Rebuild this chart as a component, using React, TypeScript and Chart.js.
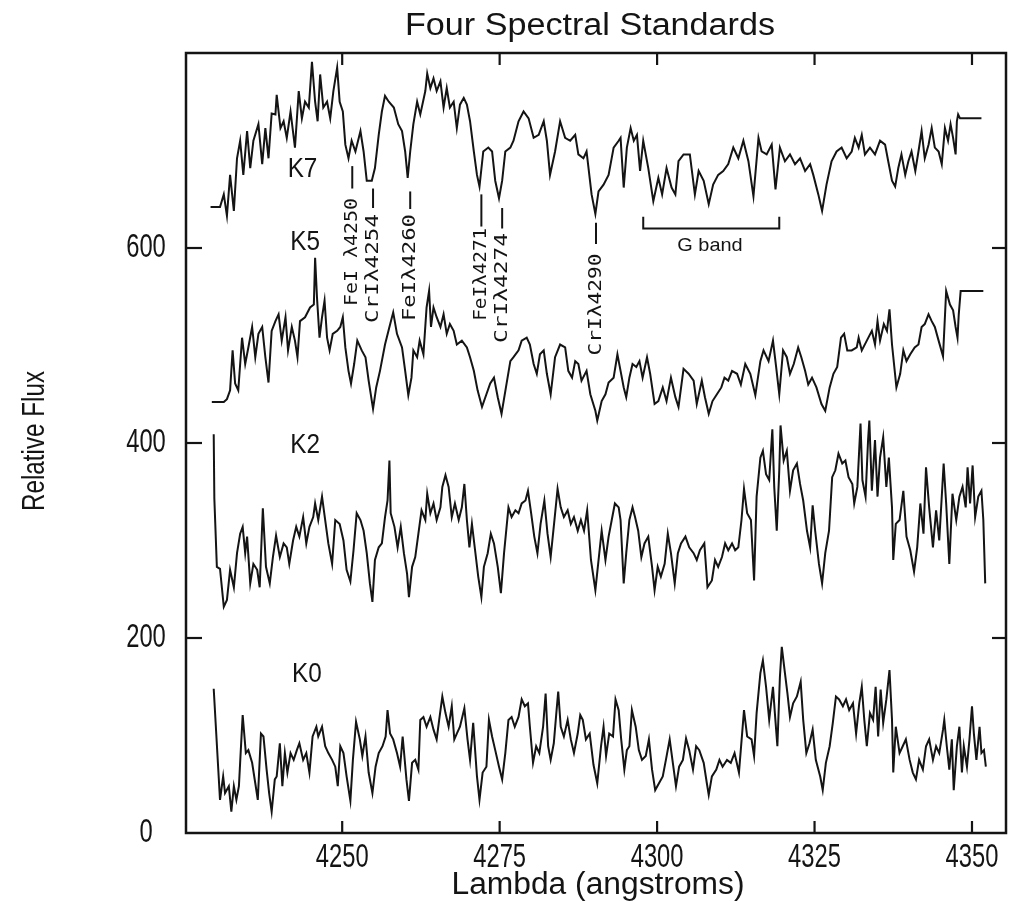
import React, { useEffect, useRef } from "react";
import { Chart, registerables } from "chart.js";

Chart.register(...registerables);

// ---------- text & axes ----------
const TITLE = "Four Spectral Standards";
const X_TITLE = "Lambda (angstroms)";
const Y_TITLE = "Relative Flux";
const X_TICKS = [4250, 4275, 4300, 4325, 4350];
const Y_TICKS = [0, 200, 400, 600];
const X_MIN = 4225.2;
const X_MAX = 4355.4;
const Y_MIN = 0;
const Y_MAX = 800;

// ---------- spectra: [wavelength (Å), relative flux] ----------
const K7: [number, number][] = [
  [4229.1, 642], [4230.6, 642], [4231.2, 655], [4231.7, 633], [4232.2, 675], [4232.8, 638], [4233.3, 692], [4233.8, 710],
  [4234.3, 675], [4234.9, 720], [4235.4, 682], [4235.9, 710], [4236.7, 727], [4237.3, 686], [4237.8, 723], [4238.3, 692],
  [4238.8, 738], [4239.4, 737], [4239.6, 757], [4240.2, 723], [4240.7, 730], [4241.2, 713], [4241.8, 740], [4242.5, 703],
  [4243.1, 761], [4243.6, 733], [4244.1, 750], [4244.7, 744], [4245.2, 791], [4245.7, 750], [4246.1, 730], [4246.5, 778],
  [4247.0, 744], [4247.6, 750], [4248.1, 733], [4248.6, 761], [4249.2, 785], [4249.6, 750], [4250.1, 740], [4250.5, 706],
  [4251.0, 692], [4251.5, 710], [4252.1, 699], [4252.9, 720], [4253.4, 699], [4253.9, 669], [4254.7, 669], [4255.2, 682],
  [4255.8, 716], [4256.3, 740], [4256.8, 756], [4257.4, 750], [4258.2, 744], [4258.9, 727], [4259.5, 720], [4260.0, 699],
  [4260.4, 672], [4260.8, 699], [4261.3, 727], [4261.9, 750], [4262.4, 737], [4263.2, 761], [4263.5, 779], [4264.0, 764],
  [4264.5, 774], [4265.0, 761], [4265.6, 771], [4266.1, 744], [4266.6, 764], [4267.1, 744], [4267.7, 750], [4268.2, 723],
  [4268.7, 747], [4269.3, 754], [4269.8, 747], [4270.3, 730], [4270.9, 699], [4271.4, 675], [4271.8, 663], [4272.4, 699],
  [4273.2, 703], [4273.8, 699], [4274.3, 669], [4274.9, 651], [4275.4, 669], [4275.9, 699], [4276.7, 703], [4277.2, 710],
  [4278.0, 730], [4278.8, 740], [4279.6, 733], [4280.4, 713], [4281.2, 716], [4282.0, 730], [4282.5, 710], [4283.0, 675],
  [4283.8, 699], [4284.6, 730], [4285.4, 713], [4286.2, 710], [4287.0, 716], [4287.5, 696], [4288.3, 692], [4288.8, 699],
  [4289.6, 655], [4290.2, 635], [4290.7, 658], [4291.5, 665], [4292.3, 675], [4293.1, 703], [4293.9, 710], [4294.2, 713],
  [4294.7, 662], [4295.2, 703], [4295.8, 723], [4296.3, 710], [4296.8, 716], [4297.3, 679], [4297.8, 710], [4298.6, 682],
  [4299.4, 648], [4300.2, 672], [4300.8, 655], [4301.5, 682], [4302.3, 662], [4302.9, 655], [4303.4, 689], [4304.2, 696],
  [4305.2, 696], [4306.0, 655], [4306.6, 679], [4307.4, 669], [4308.2, 645], [4308.9, 665], [4309.7, 675], [4310.5, 679],
  [4311.3, 686], [4312.1, 703], [4312.9, 692], [4313.7, 710], [4314.5, 689], [4315.3, 653], [4316.1, 713], [4316.6, 699],
  [4317.4, 696], [4318.2, 706], [4318.8, 660], [4319.5, 703], [4320.3, 689], [4321.1, 696], [4321.9, 686], [4322.7, 692],
  [4323.5, 679], [4324.3, 686], [4324.8, 675], [4325.6, 655], [4326.2, 638], [4326.9, 665], [4327.7, 689], [4328.5, 699],
  [4329.3, 703], [4330.1, 692], [4330.9, 699], [4331.4, 713], [4332.0, 703], [4332.5, 716], [4333.0, 696], [4333.8, 703],
  [4334.6, 696], [4335.4, 710], [4336.2, 706], [4336.7, 689], [4337.3, 669], [4337.8, 663], [4338.3, 682], [4338.8, 696],
  [4339.4, 675], [4339.9, 689], [4340.4, 699], [4341.0, 679], [4341.5, 699], [4342.0, 720], [4342.5, 692], [4343.1, 706],
  [4343.6, 723], [4344.1, 703], [4344.7, 699], [4345.2, 686], [4345.7, 723], [4346.2, 710], [4346.6, 727], [4347.0, 713],
  [4347.4, 696], [4347.6, 730], [4347.8, 737], [4348.1, 733], [4351.5, 733],
];

const K5: [number, number][] = [
  [4229.3, 442], [4231.2, 442], [4231.7, 445], [4232.2, 454], [4232.6, 495], [4233.0, 461], [4233.5, 454], [4234.1, 508],
  [4234.6, 481], [4235.1, 498], [4235.7, 519], [4236.2, 488], [4236.7, 512], [4237.3, 519], [4237.8, 488], [4238.3, 462],
  [4238.8, 515], [4239.4, 525], [4239.9, 532], [4240.4, 505], [4241.0, 529], [4241.4, 495], [4242.0, 519], [4242.5, 505],
  [4242.9, 488], [4243.3, 525], [4244.1, 529], [4244.9, 539], [4245.5, 542], [4245.7, 590], [4246.0, 549], [4246.4, 508],
  [4246.8, 529], [4247.2, 546], [4247.6, 508], [4248.0, 495], [4248.5, 512], [4249.2, 515], [4249.7, 519], [4250.1, 529],
  [4250.5, 498], [4251.0, 474], [4251.4, 461], [4251.9, 481], [4252.4, 505], [4253.1, 495], [4253.7, 488], [4254.2, 464],
  [4254.9, 435], [4255.4, 457], [4256.0, 474], [4256.8, 501], [4257.5, 519], [4258.1, 534], [4258.7, 512], [4259.5, 498],
  [4260.0, 474], [4260.5, 449], [4261.0, 467], [4261.3, 495], [4261.9, 488], [4262.3, 505], [4262.9, 491], [4263.4, 539],
  [4263.8, 556], [4264.1, 519], [4264.5, 539], [4265.0, 529], [4265.6, 519], [4266.1, 532], [4266.6, 512], [4267.1, 522],
  [4267.7, 515], [4268.2, 501], [4269.0, 505], [4269.8, 498], [4270.3, 488], [4270.9, 474], [4271.5, 454], [4272.2, 437],
  [4272.9, 450], [4273.5, 461], [4274.1, 467], [4274.7, 447], [4275.3, 430], [4276.0, 457], [4276.7, 484], [4277.2, 488],
  [4278.0, 495], [4278.5, 505], [4279.3, 508], [4279.8, 501], [4280.4, 481], [4280.9, 471], [4281.4, 491], [4282.0, 495],
  [4282.5, 471], [4283.1, 450], [4283.8, 488], [4284.6, 501], [4285.4, 498], [4285.9, 474], [4286.5, 467], [4287.0, 484],
  [4287.5, 481], [4288.0, 464], [4288.8, 474], [4289.4, 450], [4290.2, 433], [4290.5, 423], [4291.2, 443], [4291.8, 450],
  [4292.3, 462], [4293.1, 467], [4293.7, 491], [4294.2, 474], [4294.7, 457], [4295.1, 447], [4295.6, 467], [4296.1, 481],
  [4296.7, 478], [4297.2, 484], [4297.7, 467], [4298.4, 488], [4298.9, 471], [4299.6, 440], [4300.2, 443], [4300.9, 457],
  [4301.5, 443], [4302.2, 467], [4302.9, 447], [4303.4, 437], [4304.2, 476], [4305.0, 471], [4305.8, 464], [4306.3, 440],
  [4307.1, 464], [4307.6, 447], [4308.2, 430], [4308.8, 443], [4309.5, 450], [4310.2, 457], [4310.7, 467], [4311.3, 464],
  [4311.9, 474], [4312.7, 471], [4313.3, 460], [4314.0, 481], [4314.8, 471], [4315.6, 449], [4316.4, 484], [4316.9, 495],
  [4317.7, 484], [4318.4, 505], [4318.9, 478], [4319.4, 450], [4320.0, 495], [4320.6, 488], [4321.1, 471], [4321.7, 481],
  [4322.4, 498], [4322.9, 488], [4323.5, 474], [4324.0, 460], [4324.6, 467], [4325.3, 457], [4326.1, 440], [4326.7, 433],
  [4327.4, 457], [4328.0, 471], [4328.6, 478], [4329.2, 508], [4329.7, 512], [4330.2, 495], [4330.9, 495], [4331.7, 498],
  [4332.0, 508], [4332.5, 495], [4333.3, 505], [4334.1, 515], [4334.6, 501], [4335.0, 525], [4335.4, 505], [4336.0, 522],
  [4336.5, 515], [4336.9, 537], [4337.3, 501], [4338.0, 457], [4338.6, 471], [4339.1, 495], [4339.6, 484], [4340.2, 491],
  [4340.9, 498], [4341.5, 501], [4342.0, 519], [4342.5, 522], [4343.1, 532], [4343.6, 525], [4344.1, 519], [4344.7, 505],
  [4345.4, 489], [4345.9, 556], [4346.5, 542], [4347.0, 536], [4347.4, 519], [4347.7, 508], [4347.9, 532], [4348.2, 556],
  [4351.8, 556],
];

const K2: [number, number][] = [
  [4229.6, 409], [4229.7, 343], [4230.1, 273], [4230.6, 271], [4231.2, 232], [4231.7, 239], [4232.2, 270], [4232.8, 252],
  [4233.3, 287], [4233.8, 307], [4234.2, 314], [4234.6, 287], [4234.9, 304], [4235.4, 256], [4235.9, 276], [4236.5, 270],
  [4236.9, 252], [4237.4, 333], [4237.9, 273], [4238.5, 256], [4239.0, 283], [4239.5, 305], [4240.1, 283], [4240.7, 297],
  [4241.2, 293], [4241.6, 276], [4242.2, 300], [4242.7, 314], [4243.2, 304], [4243.8, 324], [4244.3, 297], [4244.8, 314],
  [4245.4, 324], [4245.7, 338], [4246.2, 321], [4246.8, 345], [4247.3, 321], [4247.8, 297], [4248.4, 276], [4248.9, 321],
  [4249.6, 317], [4250.2, 300], [4250.7, 270], [4251.3, 258], [4251.8, 290], [4252.3, 328], [4252.9, 321], [4253.4, 310],
  [4253.9, 287], [4254.4, 256], [4254.8, 237], [4255.2, 280], [4255.8, 293], [4256.3, 297], [4256.8, 324], [4257.2, 341],
  [4257.5, 382], [4257.7, 328], [4258.3, 314], [4258.8, 293], [4259.3, 314], [4259.8, 287], [4260.3, 266], [4260.6, 242],
  [4261.1, 273], [4261.6, 283], [4262.1, 307], [4262.6, 331], [4263.2, 321], [4263.5, 348], [4264.0, 328], [4264.5, 338],
  [4265.0, 321], [4265.6, 334], [4265.9, 355], [4266.4, 367], [4266.9, 355], [4267.4, 324], [4267.9, 338], [4268.5, 321],
  [4269.0, 334], [4269.4, 358], [4269.8, 321], [4270.2, 293], [4270.6, 317], [4271.1, 290], [4271.6, 263], [4272.1, 242],
  [4272.5, 273], [4273.1, 287], [4273.6, 307], [4274.1, 297], [4274.7, 273], [4275.2, 246], [4275.7, 287], [4276.4, 334],
  [4276.9, 324], [4277.5, 331], [4278.0, 328], [4278.5, 338], [4279.1, 341], [4279.5, 351], [4280.0, 328], [4280.5, 304],
  [4281.0, 287], [4281.5, 317], [4282.1, 341], [4282.6, 307], [4283.1, 283], [4283.7, 321], [4284.2, 353], [4284.7, 334],
  [4285.2, 324], [4285.8, 331], [4286.3, 317], [4286.8, 324], [4287.4, 310], [4287.9, 321], [4288.4, 310], [4288.9, 331],
  [4289.5, 280], [4290.2, 249], [4291.2, 310], [4291.8, 280], [4292.3, 304], [4292.8, 321], [4293.3, 338], [4293.9, 334],
  [4294.2, 321], [4294.7, 256], [4295.1, 287], [4295.6, 321], [4296.1, 334], [4296.5, 324], [4297.0, 310], [4297.5, 283],
  [4298.0, 297], [4298.6, 304], [4299.2, 273], [4299.6, 249], [4300.1, 273], [4300.6, 263], [4301.2, 276], [4301.7, 307],
  [4302.2, 287], [4302.8, 256], [4303.3, 287], [4303.8, 297], [4304.5, 304], [4305.1, 293], [4305.8, 287], [4306.3, 280],
  [4306.8, 290], [4307.5, 297], [4308.0, 252], [4308.7, 259], [4309.2, 280], [4309.7, 273], [4310.3, 283], [4310.8, 297],
  [4311.3, 290], [4311.9, 297], [4312.4, 290], [4312.9, 293], [4313.4, 321], [4313.8, 353], [4314.3, 328], [4314.9, 321],
  [4315.4, 259], [4315.8, 345], [4316.4, 385], [4316.8, 392], [4317.3, 368], [4317.8, 362], [4318.3, 414], [4318.6, 355],
  [4319.0, 310], [4319.4, 372], [4319.6, 418], [4320.1, 382], [4320.6, 392], [4321.1, 351], [4321.6, 372], [4322.2, 379],
  [4322.7, 358], [4323.2, 341], [4323.8, 310], [4324.3, 293], [4324.7, 336], [4325.1, 310], [4325.7, 276], [4326.2, 256],
  [4326.7, 287], [4327.3, 310], [4327.8, 365], [4328.3, 372], [4328.8, 389], [4329.4, 379], [4329.9, 382], [4330.4, 365],
  [4331.0, 358], [4331.3, 338], [4331.8, 355], [4332.3, 420], [4332.6, 362], [4333.1, 345], [4333.5, 403], [4333.7, 423],
  [4334.1, 351], [4334.6, 403], [4335.0, 345], [4335.4, 385], [4335.9, 406], [4336.4, 355], [4336.8, 385], [4337.3, 334],
  [4337.5, 280], [4337.9, 317], [4338.5, 321], [4339.1, 351], [4339.6, 304], [4340.2, 290], [4340.8, 268], [4341.3, 293],
  [4341.8, 338], [4342.3, 307], [4342.7, 375], [4343.2, 334], [4343.8, 293], [4344.3, 331], [4344.8, 300], [4345.5, 379],
  [4345.9, 338], [4346.4, 276], [4346.9, 348], [4347.5, 321], [4348.0, 345], [4348.5, 355], [4349.0, 334], [4349.3, 375],
  [4349.7, 338], [4350.1, 377], [4350.5, 324], [4351.0, 345], [4351.5, 351], [4351.8, 321], [4352.1, 256],
];

const K0: [number, number][] = [
  [4229.6, 148], [4230.3, 68], [4230.6, 34], [4231.1, 58], [4231.4, 41], [4232.0, 48], [4232.4, 22], [4232.8, 48],
  [4233.2, 34], [4233.6, 48], [4233.9, 85], [4234.2, 121], [4234.7, 82], [4235.1, 85], [4235.7, 72], [4236.2, 51],
  [4236.6, 34], [4237.1, 102], [4237.5, 99], [4238.0, 65], [4238.4, 41], [4238.8, 22], [4239.3, 55], [4239.6, 58],
  [4240.1, 92], [4240.5, 48], [4240.9, 82], [4241.3, 62], [4241.8, 82], [4242.3, 75], [4242.8, 85], [4243.2, 92],
  [4243.8, 75], [4244.3, 82], [4244.8, 62], [4245.3, 99], [4245.9, 109], [4246.2, 99], [4246.8, 109], [4247.3, 89],
  [4247.8, 82], [4248.4, 75], [4248.9, 68], [4249.3, 48], [4249.7, 89], [4250.2, 82], [4250.7, 58], [4251.3, 33],
  [4251.7, 75], [4252.2, 114], [4252.8, 96], [4253.2, 79], [4253.7, 99], [4254.2, 62], [4254.8, 41], [4255.3, 68],
  [4255.8, 82], [4256.4, 89], [4256.9, 99], [4257.2, 126], [4257.6, 102], [4258.1, 96], [4258.7, 82], [4259.2, 68],
  [4259.6, 99], [4260.2, 55], [4260.6, 33], [4261.1, 72], [4261.6, 75], [4262.1, 65], [4262.4, 116], [4262.9, 119],
  [4263.4, 109], [4264.0, 119], [4264.5, 106], [4265.0, 96], [4265.4, 116], [4265.9, 140], [4266.4, 123], [4266.9, 109],
  [4267.4, 130], [4267.8, 96], [4268.2, 102], [4268.7, 109], [4269.4, 128], [4269.9, 96], [4270.3, 75], [4270.8, 113],
  [4271.4, 58], [4271.8, 34], [4272.3, 62], [4272.9, 68], [4273.3, 116], [4273.8, 99], [4274.3, 85], [4274.9, 68],
  [4275.4, 55], [4275.9, 82], [4276.4, 116], [4276.9, 119], [4277.4, 109], [4278.0, 119], [4278.5, 137], [4279.0, 130],
  [4279.5, 133], [4279.8, 109], [4280.3, 72], [4280.8, 89], [4281.3, 82], [4281.9, 109], [4282.3, 143], [4282.7, 89],
  [4283.1, 75], [4283.6, 92], [4284.0, 123], [4284.3, 145], [4284.7, 109], [4285.2, 99], [4285.8, 116], [4286.3, 96],
  [4286.8, 82], [4287.4, 102], [4287.8, 121], [4288.2, 116], [4288.7, 96], [4289.3, 102], [4289.9, 70], [4290.5, 51],
  [4291.1, 89], [4291.5, 109], [4291.9, 79], [4292.4, 102], [4293.0, 99], [4293.4, 137], [4293.9, 126], [4294.3, 96],
  [4294.8, 65], [4295.2, 85], [4295.6, 89], [4296.0, 126], [4296.6, 109], [4297.1, 85], [4297.6, 75], [4298.2, 79],
  [4298.7, 96], [4299.2, 65], [4299.7, 44], [4300.3, 51], [4300.9, 58], [4301.4, 75], [4302.0, 96], [4302.5, 72],
  [4303.0, 48], [4303.5, 68], [4304.1, 75], [4304.6, 97], [4305.1, 85], [4305.7, 65], [4306.2, 89], [4306.7, 85],
  [4307.4, 72], [4307.9, 51], [4308.2, 39], [4308.7, 58], [4309.4, 65], [4309.9, 75], [4310.4, 68], [4311.1, 75],
  [4311.7, 72], [4312.3, 82], [4313.0, 62], [4313.5, 102], [4313.8, 126], [4314.3, 99], [4315.0, 96], [4315.4, 79],
  [4315.8, 123], [4316.4, 164], [4316.8, 177], [4317.3, 150], [4317.8, 116], [4318.4, 150], [4318.7, 123], [4319.1, 89],
  [4319.5, 160], [4319.8, 191], [4320.3, 164], [4320.7, 143], [4321.1, 119], [4321.6, 133], [4322.2, 140], [4322.8, 155],
  [4323.2, 116], [4323.7, 82], [4324.2, 92], [4324.7, 106], [4325.2, 75], [4325.9, 58], [4326.3, 44], [4326.8, 72],
  [4327.4, 89], [4327.9, 113], [4328.4, 140], [4328.9, 137], [4329.5, 130], [4330.0, 137], [4330.5, 126], [4331.1, 133],
  [4331.6, 102], [4332.1, 133], [4332.5, 150], [4332.9, 116], [4333.3, 89], [4333.8, 123], [4334.3, 116], [4334.7, 150],
  [4335.1, 99], [4335.5, 147], [4335.9, 113], [4336.4, 137], [4336.9, 167], [4337.3, 116], [4337.5, 62], [4337.9, 109],
  [4338.5, 82], [4339.0, 89], [4339.5, 96], [4340.1, 75], [4340.6, 62], [4341.1, 55], [4341.6, 75], [4342.2, 65],
  [4342.7, 89], [4343.2, 96], [4343.8, 75], [4344.3, 89], [4344.8, 82], [4345.4, 106], [4345.6, 116], [4346.0, 89],
  [4346.4, 65], [4346.8, 96], [4347.1, 44], [4347.6, 89], [4348.0, 109], [4348.4, 62], [4348.7, 89], [4349.2, 68],
  [4349.6, 96], [4350.0, 130], [4350.3, 102], [4350.7, 75], [4351.2, 109], [4351.5, 82], [4351.9, 85], [4352.2, 68],
];

const SERIES_NAMES = ["K7", "K5", "K2", "K0"];
const SERIES = [K7, K5, K2, K0];

// ---------- annotation layout (anchored in data units) ----------
const SERIES_LABEL_ANCHORS = [
  { x: 4243.7, y: 680 },
  { x: 4244.1, y: 606 },
  { x: 4244.1, y: 397 },
  { x: 4244.4, y: 163 },
];
const LINE_IDS = ["FeI λ4250", "CrIλ4254", "FeIλ4260", "FeIλ4271", "CrIλ4274", "CrIλ4290"];
const LINE_LAYOUT = [
  { x: 4251.6, textY: 596, len: 108, dashTop: 684, dashBottom: 661 },
  { x: 4254.9, textY: 579, len: 109, dashTop: 661, dashBottom: 641 },
  { x: 4260.8, textY: 580, len: 107, dashTop: 658, dashBottom: 640 },
  { x: 4272.1, textY: 573, len: 93, dashTop: 655, dashBottom: 622 },
  { x: 4275.4, textY: 559, len: 110, dashTop: 641, dashBottom: 620 },
  { x: 4290.3, textY: 542, len: 102, dashTop: 626, dashBottom: 604 },
];
const G_BAND_LABEL = "G band";
const G_BAND = { from: 4297.8, to: 4319.4, y: 620, tickTop: 632, labelX: 4308.4, labelY: 602 };

const INK = "#141414";
const PLOT_FONT = "'Liberation Sans', Arial, sans-serif";
const MONO_FONT = "'DejaVu Sans Mono', monospace";

function drawText(
  ctx: CanvasRenderingContext2D,
  text: string,
  cx: number,
  cy: number,
  font: string,
  opts: { sx?: number; width?: number; rotate?: number } = {}
) {
  ctx.save();
  ctx.font = font;
  ctx.textAlign = "center";
  ctx.textBaseline = "middle";
  let sx = opts.sx ?? 1;
  if (opts.width) sx = opts.width / ctx.measureText(text).width;
  ctx.translate(cx, cy);
  if (opts.rotate) ctx.rotate(opts.rotate);
  ctx.scale(sx, 1);
  ctx.fillStyle = INK;
  ctx.fillText(text, 0, 0);
  ctx.restore();
}

const decorPlugin = {
  id: "decor",
  afterDatasetsDraw(chart: any) {
    const { ctx, chartArea: a, scales } = chart;
    const xs = scales.x;
    const ys = scales.y;
    const line = (x1: number, y1: number, x2: number, y2: number) => {
      ctx.beginPath();
      ctx.moveTo(x1, y1);
      ctx.lineTo(x2, y2);
      ctx.stroke();
    };
    ctx.save();
    ctx.strokeStyle = INK;
    ctx.lineCap = "butt";

    // frame
    ctx.lineWidth = 2.5;
    ctx.strokeRect(a.left, a.top, a.right - a.left, a.bottom - a.top);

    // inward ticks
    ctx.lineWidth = 2.2;
    X_TICKS.forEach((v) => {
      const px = xs.getPixelForValue(v);
      line(px, a.top, px, a.top + 12);
      line(px, a.bottom, px, a.bottom - 12);
    });
    Y_TICKS.forEach((v) => {
      if (v === Y_MIN) return;
      const py = ys.getPixelForValue(v);
      line(a.left, py, a.left + 16, py);
      line(a.right, py, a.right - 14, py);
    });

    // tick labels
    const tickFont = `33px ${PLOT_FONT}`;
    X_TICKS.forEach((v) => {
      drawText(ctx, String(v), xs.getPixelForValue(v), a.bottom + 25, tickFont, { sx: 0.72 });
    });
    Y_TICKS.forEach((v) => {
      drawText(ctx, String(v), a.left - 40, ys.getPixelForValue(v), tickFont, { sx: 0.72 });
    });

    // titles
    drawText(ctx, TITLE, (a.left + a.right) / 2 - 6, a.top - 27, `31px ${PLOT_FONT}`, { width: 370 });
    drawText(ctx, X_TITLE, (a.left + a.right) / 2 + 2, a.bottom + 52, `31px ${PLOT_FONT}`, { width: 293 });
    drawText(ctx, Y_TITLE, a.left - 151, (a.top + a.bottom) / 2 - 2, `31px ${PLOT_FONT}`, {
      width: 140,
      rotate: -Math.PI / 2,
    });

    // series names
    SERIES_NAMES.forEach((name, i) => {
      const p = SERIES_LABEL_ANCHORS[i];
      drawText(ctx, name, xs.getPixelForValue(p.x), ys.getPixelForValue(p.y), `27px ${PLOT_FONT}`, { sx: 0.9 });
    });

    // spectral line identifications
    ctx.lineWidth = 2;
    LINE_IDS.forEach((label, i) => {
      const l = LINE_LAYOUT[i];
      const px = xs.getPixelForValue(l.x);
      line(px, ys.getPixelForValue(l.dashTop), px, ys.getPixelForValue(l.dashBottom));
      drawText(ctx, label, px, ys.getPixelForValue(l.textY), `18px ${MONO_FONT}`, {
        width: l.len,
        rotate: -Math.PI / 2,
      });
    });

    // G band bracket
    const gx1 = xs.getPixelForValue(G_BAND.from);
    const gx2 = xs.getPixelForValue(G_BAND.to);
    const gy = ys.getPixelForValue(G_BAND.y);
    const gt = ys.getPixelForValue(G_BAND.tickTop);
    ctx.beginPath();
    ctx.moveTo(gx1, gt);
    ctx.lineTo(gx1, gy);
    ctx.lineTo(gx2, gy);
    ctx.lineTo(gx2, gt);
    ctx.stroke();
    drawText(ctx, G_BAND_LABEL, xs.getPixelForValue(G_BAND.labelX), ys.getPixelForValue(G_BAND.labelY), `19px ${PLOT_FONT}`, { sx: 1.05 });

    ctx.restore();
  },
};

export default function App() {
  const canvasRef = useRef<HTMLCanvasElement | null>(null);

  useEffect(() => {
    const canvas = canvasRef.current;
    if (!canvas) return;
    const chart = new Chart(canvas, {
      type: "line",
      data: {
        datasets: SERIES.map((s, i) => ({
          label: SERIES_NAMES[i],
          data: s.map(([x, y]) => ({ x, y })),
          borderColor: INK,
          borderWidth: 2,
          pointRadius: 0,
          tension: 0,
          fill: false,
        })),
      },
      options: {
        responsive: false,
        maintainAspectRatio: false,
        devicePixelRatio: 1,
        animation: false,
        parsing: true,
        layout: { padding: { left: 186, top: 53, right: 5, bottom: 68 } },
        scales: {
          x: { type: "linear", min: X_MIN, max: X_MAX, display: false },
          y: { type: "linear", min: Y_MIN, max: Y_MAX, display: false },
        },
        plugins: {
          legend: { display: false },
          tooltip: { enabled: false },
          title: { display: false },
        },
      },
      plugins: [decorPlugin],
    });
    return () => chart.destroy();
  }, []);

  return (
    <div style={{ position: "absolute", left: 0, top: 0, width: 1011, height: 901, background: "#fff" }}>
      <canvas ref={canvasRef} width={1011} height={901} style={{ display: "block" }} />
    </div>
  );
}
